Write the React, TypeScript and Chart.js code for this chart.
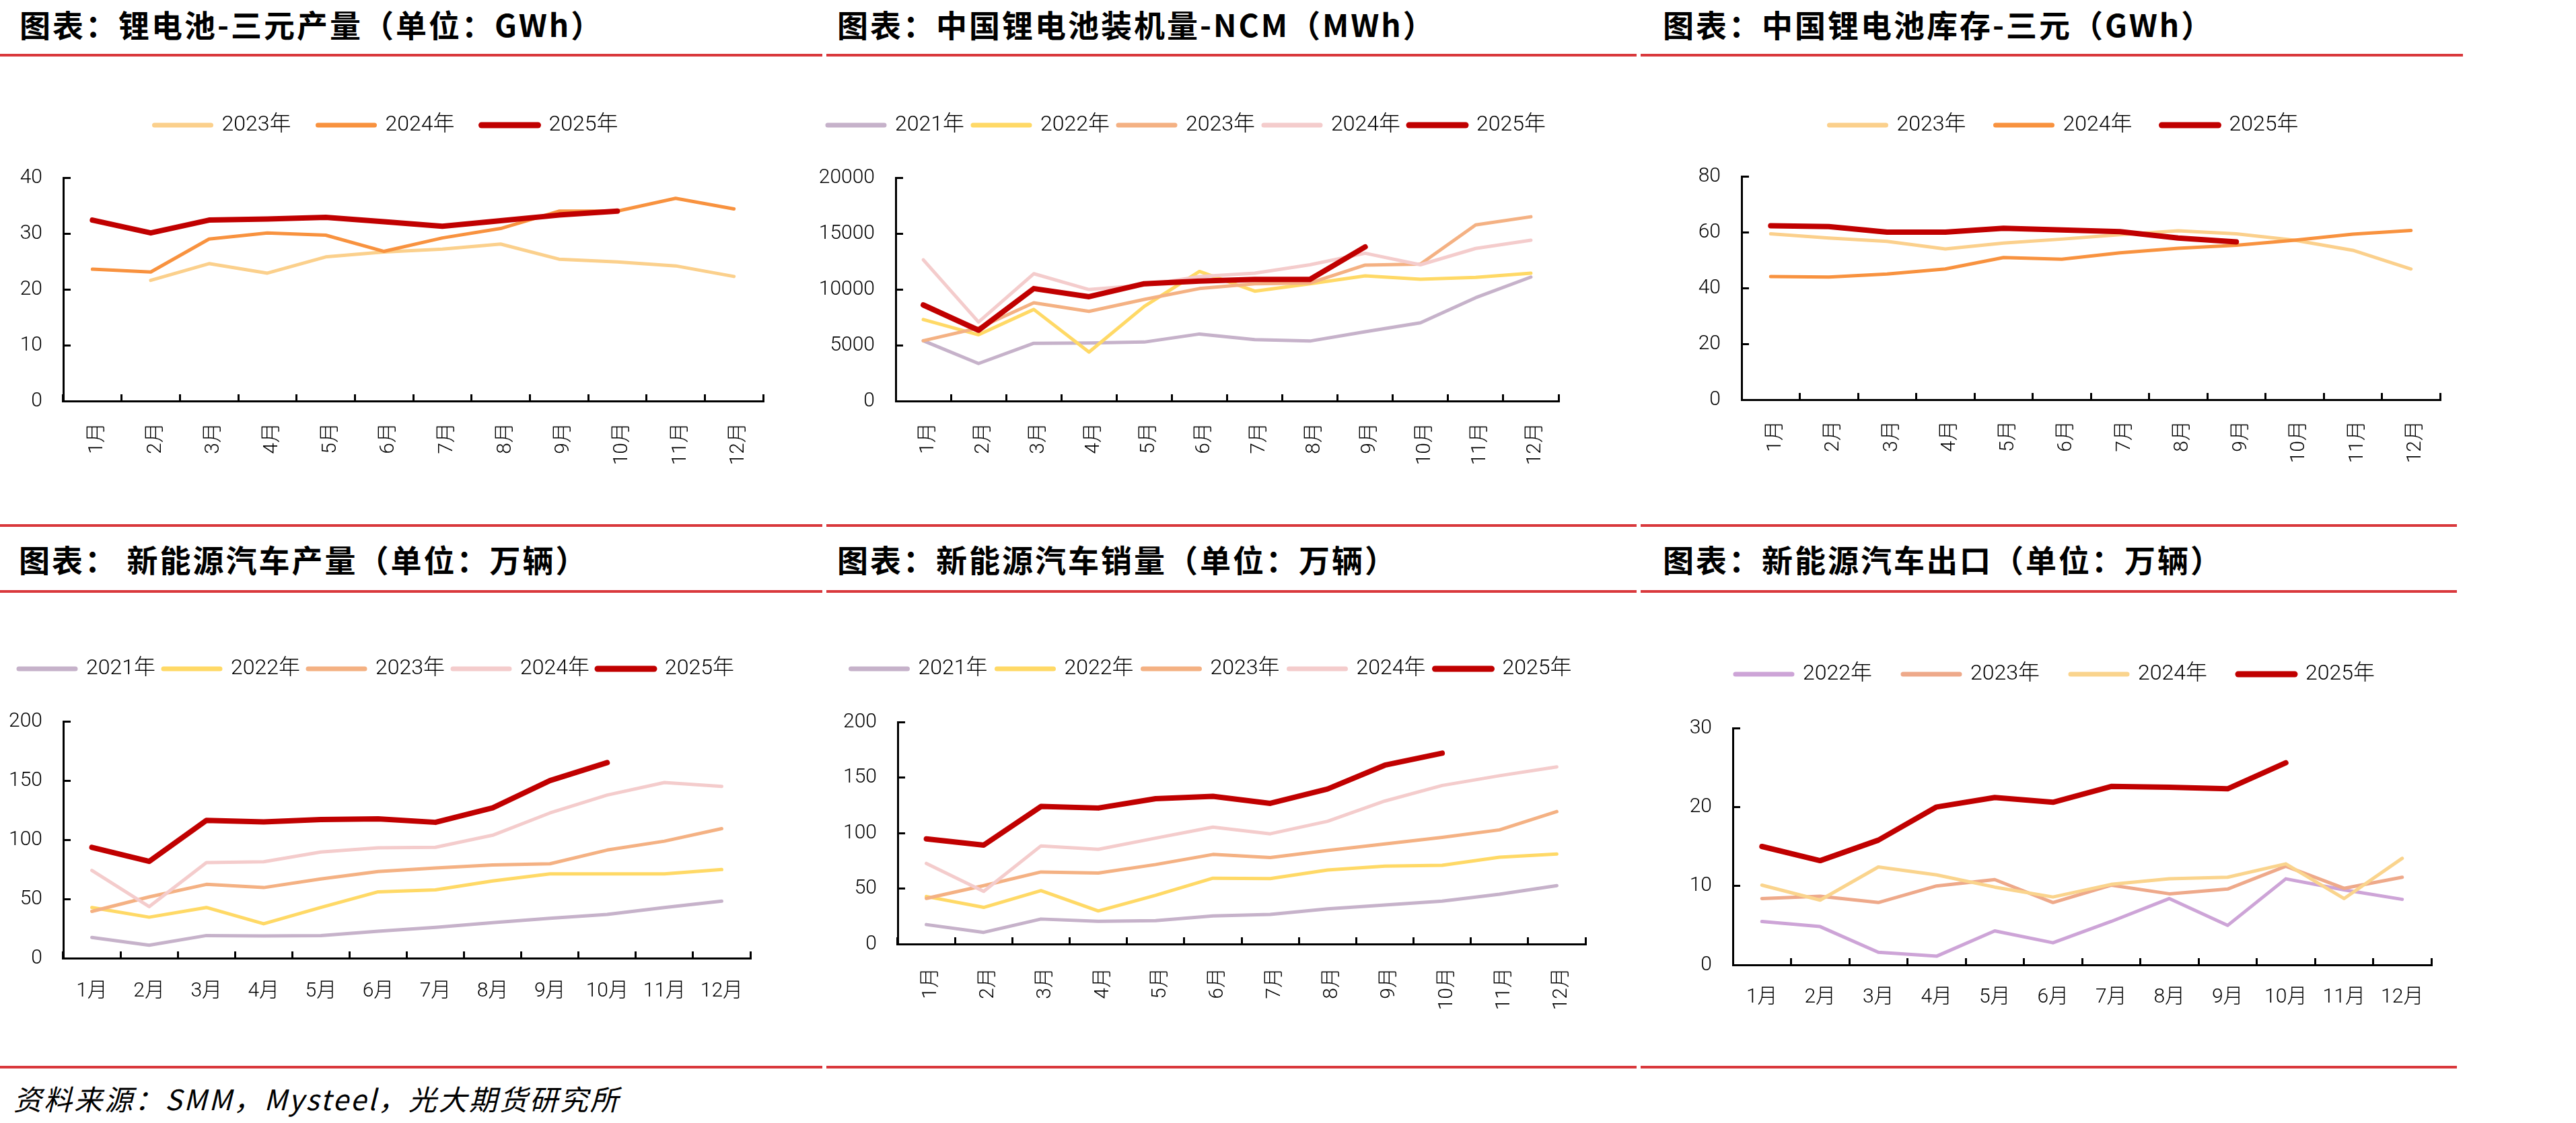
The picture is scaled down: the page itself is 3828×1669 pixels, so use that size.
import React, { useEffect, useRef } from "react";
import { Chart, registerables } from "chart.js";

Chart.register(...registerables);

// ---------- data ----------
const MONTHS = ["1月", "2月", "3月", "4月", "5月", "6月", "7月", "8月", "9月", "10月", "11月", "12月"];

// 锂电池-三元产量（GWh）
const BAT_PROD_LABELS = ["2023年", "2024年", "2025年"];
const BAT_PROD_2023 = [null, 21.6, 24.6, 22.9, 25.8, 26.7, 27.2, 28.1, 25.4, 24.9, 24.2, 22.3];
const BAT_PROD_2024 = [23.6, 23.1, 29.0, 30.1, 29.7, 26.8, 29.2, 30.9, 34.0, 34.0, 36.3, 34.4];
const BAT_PROD_2025 = [32.4, 30.1, 32.4, 32.6, 32.9, 32.1, 31.3, 32.3, 33.3, 34.0, null, null];
const BAT_PROD_TICKS = [0, 10, 20, 30, 40];

// 中国锂电池装机量-NCM（MWh）
const NCM_LABELS = ["2021年", "2022年", "2023年", "2024年", "2025年"];
const NCM_2021 = [5400, 3360, 5170, 5200, 5280, 6000, 5500, 5370, 6200, 7000, 9250, 11100];
const NCM_2022 = [7300, 5930, 8200, 4380, 8470, 11600, 9840, 10500, 11200, 10900, 11070, 11450];
const NCM_2023 = [5400, 6540, 8800, 8030, 9100, 10070, 10500, 10570, 12170, 12260, 15770, 16500];
const NCM_2024 = [12640, 7070, 11400, 9980, 10370, 11150, 11450, 12200, 13230, 12200, 13660, 14400];
const NCM_2025 = [8600, 6340, 10070, 9340, 10500, 10740, 10890, 10890, 13800, null, null, null];
const NCM_TICKS = [0, 5000, 10000, 15000, 20000];

// 中国锂电池库存-三元（GWh）
const INV_LABELS = ["2023年", "2024年", "2025年"];
const INV_2023 = [59.4, 57.9, 56.7, 54.0, 56.1, 57.5, 59.1, 60.5, 59.4, 57.1, 53.5, 46.8];
const INV_2024 = [44.1, 43.9, 45.0, 46.8, 50.9, 50.3, 52.6, 54.2, 55.3, 57.1, 59.3, 60.6];
const INV_2025 = [62.3, 62.0, 60.0, 60.0, 61.4, 60.8, 60.2, 57.9, 56.5, null, null, null];
const INV_TICKS = [0, 20, 40, 60, 80];

// 新能源汽车产量（万辆）
const PROD_LABELS = ["2021年", "2022年", "2023年", "2024年", "2025年"];
const PROD_2021 = [17.5, 10.9, 19.1, 18.8, 19.1, 22.7, 26.0, 30.0, 33.6, 36.9, 42.8, 48.1];
const PROD_2022 = [42.8, 34.6, 42.8, 29.0, 42.8, 56.0, 57.7, 65.2, 71.2, 71.2, 71.2, 74.8];
const PROD_2023 = [39.5, 51.7, 62.3, 59.6, 66.9, 73.1, 76.1, 78.7, 79.7, 91.3, 98.8, 109.4];
const PROD_2024 = [74.1, 43.5, 80.7, 81.4, 89.6, 93.2, 93.6, 103.8, 122.6, 137.7, 148.3, 145.0];
const PROD_2025 = [93.6, 81.7, 116.3, 115.0, 117.0, 117.6, 114.7, 126.9, 149.9, 165.1, null, null];
const PROD_TICKS = [0, 50, 100, 150, 200];

// 新能源汽车销量（万辆）
const SALES_LABELS = ["2021年", "2022年", "2023年", "2024年", "2025年"];
const SALES_2021 = [17.5, 10.5, 22.5, 20.4, 21.1, 25.3, 26.7, 31.6, 35.1, 38.6, 44.9, 52.6];
const SALES_2022 = [42.8, 33.0, 48.1, 29.8, 43.9, 59.3, 58.9, 66.7, 70.2, 70.9, 78.2, 81.1];
const SALES_2023 = [41.1, 52.6, 64.9, 63.9, 71.6, 80.7, 77.9, 84.2, 90.2, 96.1, 102.8, 119.3];
const SALES_2024 = [72.6, 47.4, 88.4, 85.3, 95.4, 105.3, 99.3, 110.5, 128.8, 142.8, 151.6, 159.6];
const SALES_2025 = [94.7, 89.1, 123.9, 122.5, 130.9, 133.0, 126.7, 139.6, 161.1, 171.9, null, null];
const SALES_TICKS = [0, 50, 100, 150, 200];

// 新能源汽车出口（万辆）
const EXP_LABELS = ["2022年", "2023年", "2024年", "2025年"];
const EXP_2022 = [5.5, 4.85, 1.6, 1.1, 4.3, 2.8, 5.5, 8.4, 5.0, 10.9, 9.5, 8.3];
const EXP_2023 = [8.4, 8.7, 7.9, 10.0, 10.8, 7.9, 10.1, 9.0, 9.6, 12.5, 9.7, 11.1];
const EXP_2024 = [10.1, 8.2, 12.4, 11.4, 9.85, 8.6, 10.2, 10.9, 11.1, 12.8, 8.4, 13.5];
const EXP_2025 = [15.0, 13.2, 15.8, 20.0, 21.2, 20.6, 22.6, 22.5, 22.3, 25.6, null, null];
const EXP_TICKS = [0, 10, 20, 30];

// ---------- styles ----------
const RED = "#C00000";
const C_LAV = "#C6B2CA";
const C_YEL = "#FFD966";
const C_SAL = "#F4B183";
const C_PINK = "#F4CCCC";
const C_LIGHTOR = "#FBD08C";
const C_OR = "#F8923F";
const C_LILAC = "#CDA4D7";
const C_SAL2 = "#EEA98A";
const C_LY = "#FAD48D";
const RULE = "#D9383C";

const NUM_FONT = "Roboto, 'Noto Sans CJK SC', sans-serif";
const TITLE_FONT = "'Noto Sans CJK SC', sans-serif";

type Series = { label: string; data: (number | null)[]; color: string; width: number; lw: number };
type Geo = {
  L: number; T: number; W: number; H: number;
  cl: number; cr: number; ct: number; cb: number;
  lcy: number; q: number; yw: number; rotate: boolean; xpad: number;
};

const mk = (labels: string[], data: (number | null)[][], colors: string[]): Series[] =>
  labels.map((l, i) => ({
    label: l,
    data: data[i],
    color: colors[i],
    width: colors[i] === RED ? 8 : 5,
    lw: colors[i] === RED ? 9 : 7,
  }));

function LineChart({ series, ticks, geo }: { series: Series[]; ticks: number[]; geo: Geo }) {
  const ref = useRef<HTMLCanvasElement>(null);
  useEffect(() => {
    const f = 32;
    const padTop = geo.lcy - geo.T - geo.q - f / 2;
    const extra = geo.ct - (geo.T + padTop + f + geo.q + 10);
    const padLeft = geo.cl - geo.L - geo.yw;
    const padRight = geo.L + geo.W - geo.cr;
    const xh = geo.T + geo.H - geo.cb;
    const spacer = {
      id: "legendSpacer",
      beforeLayout(chart: any) {
        const lg = chart.legend;
        if (lg && !lg.__patched) {
          const orig = lg.fit;
          lg.fit = function () {
            orig.call(this);
            this.height += extra;
          };
          lg.__patched = true;
        }
      },
    };
    const tickFont = { family: NUM_FONT, size: 30, weight: "300" as any };
    const chart = new Chart(ref.current as HTMLCanvasElement, {
      type: "line",
      data: {
        labels: MONTHS,
        datasets: series.map((s, i) => ({
          label: s.label,
          data: s.data,
          borderColor: s.color,
          backgroundColor: s.color,
          borderWidth: s.width,
          pointRadius: 0,
          pointHoverRadius: 0,
          tension: 0,
          fill: false,
          spanGaps: false,
          borderCapStyle: "round",
          borderJoinStyle: "round",
          order: series.length - i,
        })) as any,
      },
      options: {
        responsive: false,
        maintainAspectRatio: false,
        animation: false,
        devicePixelRatio: 1,
        events: [],
        layout: { padding: { top: padTop, left: padLeft, right: padRight, bottom: 0 } },
        plugins: {
          tooltip: { enabled: false },
          legend: {
            display: true,
            position: "top",
            align: "center",
            labels: {
              usePointStyle: true,
              pointStyleWidth: 84,
              padding: geo.q,
              color: "#000",
              font: { family: NUM_FONT, size: f, weight: "300" as any },
              generateLabels: () =>
                series.map((s, i) => ({
                  text: s.label,
                  fillStyle: s.color,
                  strokeStyle: s.color,
                  lineWidth: s.lw,
                  lineCap: "round",
                  pointStyle: "line",
                  hidden: false,
                  datasetIndex: i,
                  fontColor: "#000",
                })) as any,
            },
          },
        },
        scales: {
          x: {
            type: "category",
            offset: true,
            border: { display: true, color: "#000", width: 3 },
            grid: {
              display: true,
              offset: true,
              drawOnChartArea: false,
              drawTicks: true,
              tickLength: -10,
              color: "#000",
              lineWidth: 3,
            },
            ticks: {
              color: "#000",
              font: tickFont,
              autoSkip: false,
              minRotation: geo.rotate ? 90 : 0,
              maxRotation: geo.rotate ? 90 : 0,
              padding: geo.xpad,
              labelOffset: geo.rotate ? 7 : 0,
            },
            afterFit: (s: any) => {
              s.height = xh;
            },
          },
          y: {
            type: "linear",
            min: ticks[0],
            max: ticks[ticks.length - 1],
            border: { display: true, color: "#000", width: 3 },
            grid: {
              display: true,
              drawOnChartArea: false,
              drawTicks: true,
              tickLength: -11,
              color: "#000",
              lineWidth: 3,
            },
            ticks: {
              color: "#000",
              font: tickFont,
              padding: 42,
              stepSize: ticks[1] - ticks[0],
              callback: (v: any) => String(v),
            },
            afterFit: (s: any) => {
              s.width = geo.yw;
            },
          },
        },
      },
      plugins: [spacer as any],
    });
    return () => chart.destroy();
  }, []);
  return (
    <canvas
      ref={ref}
      width={geo.W}
      height={geo.H}
      style={{ position: "absolute", left: geo.L, top: geo.T, width: geo.W, height: geo.H }}
    />
  );
}

const Title = ({ x, cy, text }: { x: number; cy: number; text: string }) => (
  <div
    style={{
      position: "absolute",
      left: x,
      top: cy - 30,
      height: 60,
      lineHeight: "60px",
      fontFamily: TITLE_FONT,
      fontWeight: 700,
      fontSize: 46,
      letterSpacing: 3,
      color: "#000",
      whiteSpace: "nowrap",
    }}
  >
    {text}
  </div>
);

const Rule = ({ x1, x2, y }: { x1: number; x2: number; y: number }) => (
  <div style={{ position: "absolute", left: x1, top: y - 2, width: x2 - x1, height: 4, background: RULE }} />
);

export default function App() {
  const p1 = mk(BAT_PROD_LABELS, [BAT_PROD_2023, BAT_PROD_2024, BAT_PROD_2025], [C_LIGHTOR, C_OR, RED]);
  const p2 = mk(NCM_LABELS, [NCM_2021, NCM_2022, NCM_2023, NCM_2024, NCM_2025], [C_LAV, C_YEL, C_SAL, C_PINK, RED]);
  const p3 = mk(INV_LABELS, [INV_2023, INV_2024, INV_2025], [C_LIGHTOR, C_OR, RED]);
  const p4 = mk(PROD_LABELS, [PROD_2021, PROD_2022, PROD_2023, PROD_2024, PROD_2025], [C_LAV, C_YEL, C_SAL, C_PINK, RED]);
  const p5 = mk(SALES_LABELS, [SALES_2021, SALES_2022, SALES_2023, SALES_2024, SALES_2025], [C_LAV, C_YEL, C_SAL, C_PINK, RED]);
  const p6 = mk(EXP_LABELS, [EXP_2022, EXP_2023, EXP_2024, EXP_2025], [C_LILAC, C_SAL2, C_LY, RED]);

  const segs1: [number, number][] = [[0, 1222], [1228, 2432], [2438, 3660]];
  const segs2: [number, number][] = [[0, 1222], [1228, 2432], [2438, 3651]];

  return (
    <div
      style={{
        position: "absolute",
        left: 0,
        top: 0,
        width: 3828,
        height: 1669,
        overflow: "hidden",
        background: "#fff",
      }}
    >
      <Title x={29} cy={35} text="图表：锂电池-三元产量（单位：GWh）" />
      <Title x={1244} cy={35} text="图表：中国锂电池装机量-NCM（MWh）" />
      <Title x={2471} cy={35} text="图表：中国锂电池库存-三元（GWh）" />
      {segs1.map(([a, b], i) => <Rule key={"r1" + i} x1={a} x2={b} y={82} />)}

      {segs2.map(([a, b], i) => <Rule key={"r2" + i} x1={a} x2={b} y={781} />)}
      <Title x={28} cy={830} text="图表： 新能源汽车产量（单位：万辆）" />
      <Title x={1244} cy={830} text="图表：新能源汽车销量（单位：万辆）" />
      <Title x={2471} cy={830} text="图表：新能源汽车出口（单位：万辆）" />
      {segs2.map(([a, b], i) => <Rule key={"r3" + i} x1={a} x2={b} y={879} />)}
      {segs2.map(([a, b], i) => <Rule key={"r4" + i} x1={a} x2={b} y={1586} />)}

      <div
        style={{
          position: "absolute",
          left: 20,
          top: 1606,
          height: 52,
          lineHeight: "52px",
          fontFamily: "'Noto Sans CJK SC', sans-serif",
          fontStyle: "italic",
          fontSize: 42,
          letterSpacing: 3,
          color: "#000",
          whiteSpace: "nowrap",
        }}
      >
        资料来源：SMM，Mysteel，光大期货研究所
      </div>

      <LineChart
        series={p1}
        ticks={BAT_PROD_TICKS}
        geo={{ L: 0, T: 130, W: 1225, H: 620, cl: 94, cr: 1134, ct: 264, cb: 596, lcy: 186, q: 40, yw: 80, rotate: true, xpad: 42 }}
      />
      <LineChart
        series={p2}
        ticks={NCM_TICKS}
        geo={{ L: 1200, T: 130, W: 1233, H: 620, cl: 1331, cr: 2316, ct: 264, cb: 596, lcy: 186, q: 13, yw: 120, rotate: true, xpad: 42 }}
      />
      <LineChart
        series={p3}
        ticks={INV_TICKS}
        geo={{ L: 2440, T: 130, W: 1300, H: 620, cl: 2588, cr: 3626, ct: 262, cb: 594, lcy: 186, q: 44, yw: 80, rotate: true, xpad: 41 }}
      />
      <LineChart
        series={p4}
        ticks={PROD_TICKS}
        geo={{ L: 0, T: 940, W: 1225, H: 600, cl: 94, cr: 1115, ct: 1072, cb: 1424, lcy: 994, q: 12, yw: 90, rotate: false, xpad: 41 }}
      />
      <LineChart
        series={p5}
        ticks={SALES_TICKS}
        geo={{ L: 1200, T: 940, W: 1233, H: 600, cl: 1334, cr: 2356, ct: 1073, cb: 1403, lcy: 994, q: 14, yw: 90, rotate: true, xpad: 45 }}
      />
      <LineChart
        series={p6}
        ticks={EXP_TICKS}
        geo={{ L: 2440, T: 940, W: 1300, H: 600, cl: 2575, cr: 3613, ct: 1082, cb: 1434, lcy: 1002, q: 46, yw: 80, rotate: false, xpad: 40 }}
      />
    </div>
  );
}
